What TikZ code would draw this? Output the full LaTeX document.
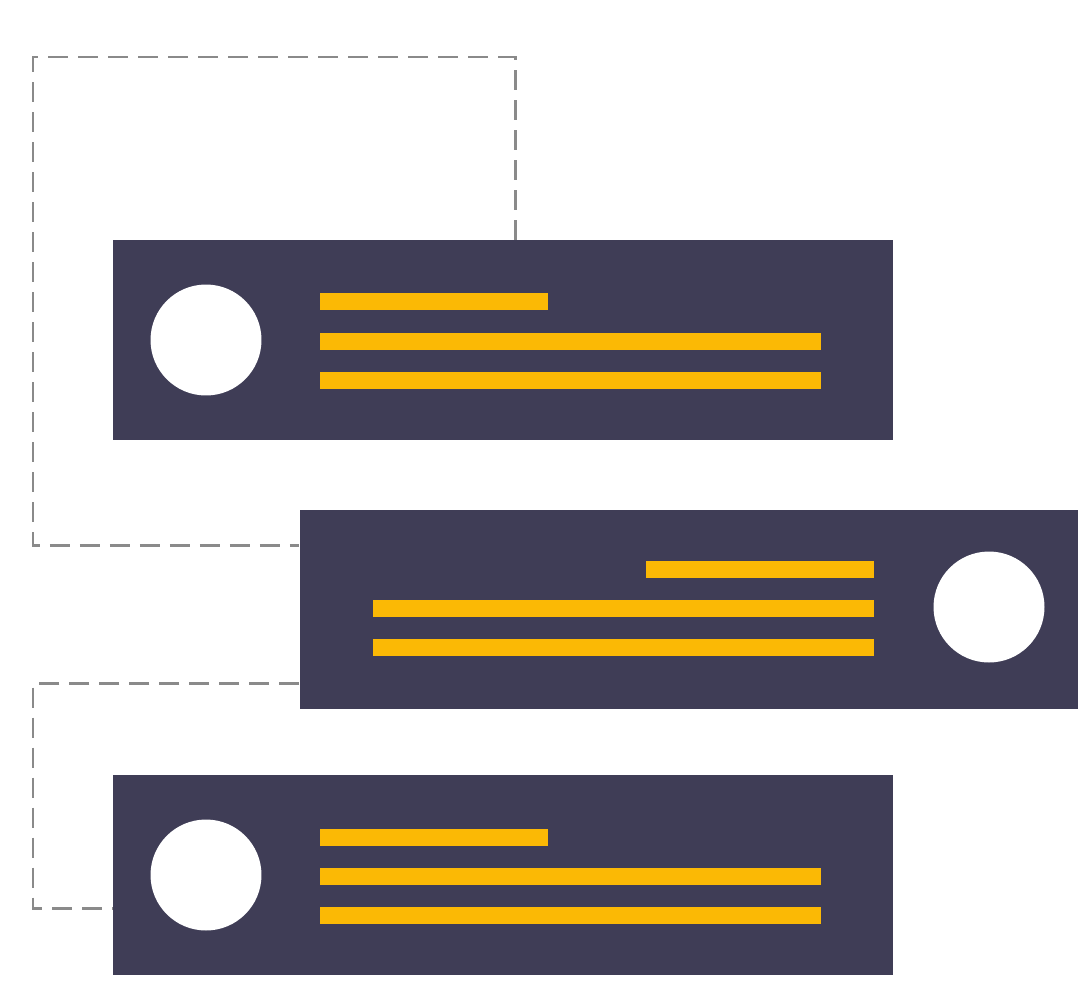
\documentclass[tikz,border=0pt]{standalone}
\usepackage{xcolor}
\usepackage{tikz}
\usetikzlibrary{positioning,calc}
\definecolor{cardink}{HTML}{3F3D56}
\definecolor{barink}{HTML}{FBB905}
\definecolor{linkink}{HTML}{8A8A8A}

\begin{document}
\begin{tikzpicture}[
x=0.02cm,
y=-0.02cm,
card/.style={rectangle,fill=cardink,inner sep=0pt,minimum width=15.6cm,minimum height=4.0cm},
avatar/.style={circle,fill=white,inner sep=0pt,minimum size=2.22cm},
bar/.style={rectangle,fill=barink,inner sep=0pt,minimum height=0.34cm},
shortbar/.style={bar,minimum width=4.56cm},
longbar/.style={bar,minimum width=10.02cm},
link/.style={draw=linkink,line width=1.7pt,dash pattern=on 0.4cm off 0.2cm}
]
\useasboundingbox (0,0) rectangle (1078,981);

\coordinate (loopA) at (33,57);
\coordinate (loopB) at (33,908);

\node[card] (card1) at (503,340) {};
\node[card] (card2) at (689.5,609.5) {};
\node[card] (card3) at (503,875) {};

\draw[link] ($(card1.north)+(12,0)$) |- (loopA) |- ($(card2.north west)+(0,36)$);
\draw[link] ($(card2.south west)+(0,-26)$) -| (loopB) -- (loopB -| card3.west);

\node[avatar] (face1) at (206,340) {};
\node[shortbar,anchor=west] (bar1a) at (320,301.5) {};
\node[longbar,anchor=west] (bar1b) at (320,341.5) {};
\node[longbar,anchor=west] (bar1c) at (320,380.5) {};

\node[avatar] (face2) at (989,607) {};
\node[shortbar,anchor=east] (bar2a) at (874,569.5) {};
\node[longbar,anchor=east] (bar2b) at (874,608.5) {};
\node[longbar,anchor=east] (bar2c) at (874,647.5) {};

\node[avatar] (face3) at (206,875) {};
\node[shortbar,anchor=west] (bar3a) at (320,837.5) {};
\node[longbar,anchor=west] (bar3b) at (320,876.5) {};
\node[longbar,anchor=west] (bar3c) at (320,915.5) {};
\end{tikzpicture}
\end{document}
